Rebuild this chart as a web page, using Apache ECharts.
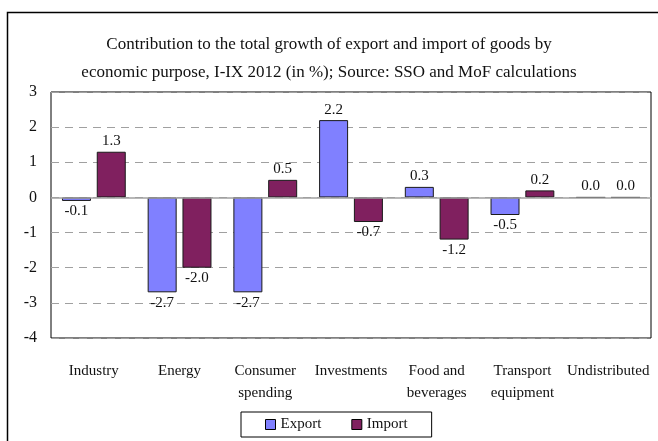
<!DOCTYPE html>
<html>
<head>
<meta charset="utf-8">
<script src="https://cdn.jsdelivr.net/npm/echarts@6/dist/echarts.min.js"></script>
<style>
  html, body { margin: 0; padding: 0; background: #fff; }
  #chart { width: 658px; height: 441px; }
</style>
</head>
<body>
<div id="chart"></div>
<script>
// data
const categories = ['Industry', 'Energy', 'Consumer\nspending', 'Investments', 'Food and\nbeverages', 'Transport\nequipment', 'Undistributed'];
const exportValues = [-0.1, -2.7, -2.7, 2.2, 0.3, -0.5, 0.0];
const importValues = [1.3, -2.0, 0.5, -0.7, -1.2, 0.2, 0.0];
const yTicks = [-4, -3, -2, -1, 0, 1, 2, 3];

const FONT = '"Liberation Serif", serif';

function toItems(values) {
    return values.map(function (v) {
        return { value: v, label: { position: v < 0 ? 'bottom' : 'top' } };
    });
}

document.addEventListener('DOMContentLoaded', function () {
    const myChart = echarts.init(document.getElementById('chart'));
    const barLabel = {
        show: true,
        distance: 3,
        color: '#111',
        fontFamily: FONT,
        fontSize: 15,
        formatter: function (p) { return p.value.toFixed(1); }
    };
    const option = {
        animation: false,
        textStyle: { fontFamily: FONT },
        graphic: [{
            type: 'rect',
            shape: { x: 7.5, y: 12.5, width: 700, height: 500 },
            style: { fill: 'none', stroke: '#000', lineWidth: 1.5 },
            silent: true
        }],
        title: {
            text: 'Contribution to the total growth of export and import of goods by\neconomic purpose, I-IX 2012 (in %); Source: SSO and MoF calculations',
            left: 'center',
            top: 26,
            textStyle: {
                fontFamily: FONT,
                fontWeight: 'normal',
                fontSize: 17,
                lineHeight: 28,
                color: '#111'
            }
        },
        legend: {
            data: ['Export', 'Import'],
            icon: 'rect',
            left: 241,
            top: 412,
            padding: [5, 24, 5, 24],
            itemGap: 30,
            itemWidth: 10,
            itemHeight: 10,
            borderColor: '#000',
            borderWidth: 1,
            itemStyle: { borderColor: '#000', borderWidth: 1 },
            textStyle: { fontFamily: FONT, fontSize: 15, color: '#111' }
        },
        grid: {
            left: 51,
            right: 7,
            top: 92,
            bottom: 103,
            show: true,
            borderColor: '#000',
            borderWidth: 1
        },
        xAxis: {
            type: 'category',
            data: categories,
            axisLine: { show: false },
            axisTick: { show: false },
            axisLabel: {
                interval: 0,
                margin: 22,
                color: '#111',
                fontFamily: FONT,
                fontSize: 15,
                lineHeight: 22
            }
        },
        yAxis: {
            type: 'value',
            min: yTicks[0],
            max: yTicks[yTicks.length - 1],
            interval: 1,
            axisLine: { show: false },
            axisTick: { show: false },
            axisLabel: {
                margin: 14,
                color: '#111',
                fontFamily: FONT,
                fontSize: 16
            },
            splitLine: {
                lineStyle: { color: '#a0a0a0', type: [8, 6] }
            }
        },
        series: [
            {
                name: 'Export',
                type: 'bar',
                data: toItems(exportValues),
                barWidth: 29,
                barGap: '20%',
                itemStyle: { color: '#8080ff', borderColor: '#1a1a1a', borderWidth: 1 },
                label: barLabel,
                markLine: {
                    silent: true,
                    symbol: 'none',
                    label: { show: false },
                    lineStyle: { color: '#a0a0a0', type: 'solid', width: 1.5 },
                    data: [{ yAxis: 0 }]
                },
                z: 3
            },
            {
                name: 'Import',
                type: 'bar',
                data: toItems(importValues),
                barWidth: 29,
                itemStyle: { color: '#80205f', borderColor: '#1a1a1a', borderWidth: 1 },
                label: barLabel,
                z: 3
            }
        ]
    };
    myChart.setOption(option);
});
</script>
</body>
</html>
